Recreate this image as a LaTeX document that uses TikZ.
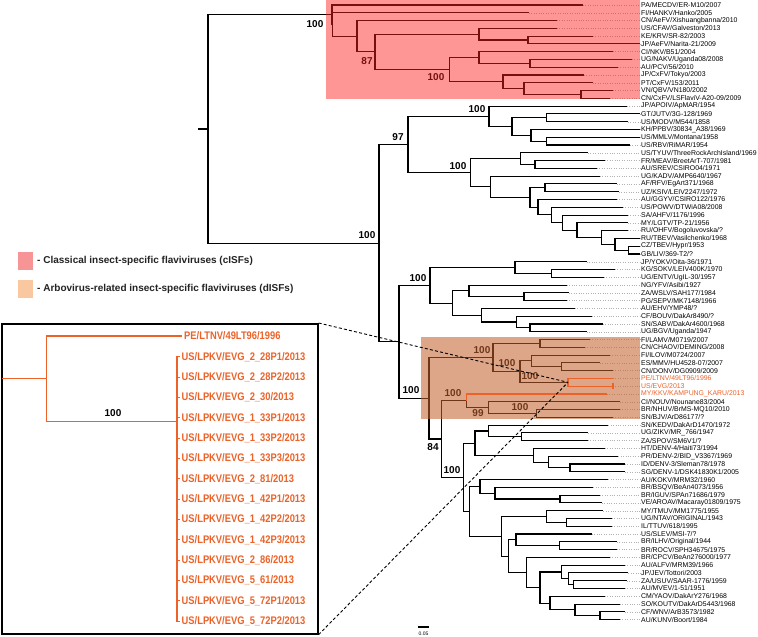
\documentclass[tikz,border=0pt]{standalone}
\usepackage{fontspec}
\setmainfont{Liberation Sans}
\newfontfamily\insetfont{Liberation Sans}[FakeStretch=0.85]
\usetikzlibrary{calc}
\definecolor{pinkov}{RGB}{255,32,32}
\definecolor{orov}{RGB}{196,98,45}
\definecolor{orline}{RGB}{236,98,40}
\definecolor{legpink}{RGB}{247,148,150}
\definecolor{legorange}{RGB}{250,200,160}
\definecolor{legtext}{RGB}{35,35,35}
\newcommand\tipN[5][black]{%
  \coordinate (#2) at (#4,{7.78*#3-2.78});
  \node[tiplab,text=#1] (#2L) at (641,{7.78*#3-2.78}) {#5};
  \draw[leader] (#2) -- (#2L.west);}
\newcommand\inode[5][tree]{%
  \coordinate (#2m) at ($(#4)!0.5!(#5)$);
  \coordinate (#2) at ($(#3,0)!(#2m)!(#3,10)$);
  \draw[#1] (#2) |- (#4);
  \draw[#1] (#2) |- (#5);}
\begin{document}
\begin{tikzpicture}[x=1pt,y=-1pt,
  tree/.style={line width=1.1pt, draw=black},
  obr/.style={line width=1.1pt, draw=orline},
  leader/.style={draw=gray!60, dotted, line width=0.4pt},
  tiplab/.style={anchor=west, inner sep=0pt, font=\fontsize{6.9}{7}\selectfont},
  boot/.style={font=\bfseries\fontsize{10}{11}\selectfont, inner sep=0pt},
  evglab/.style={anchor=west, inner sep=0pt, text=orline, font=\insetfont\bfseries\fontsize{11}{12}\selectfont},
]
\useasboundingbox[fill=white] (0,0) rectangle (758,637);

% ---------- tips ----------
\tipN{t1}{1}{583}{PA/MECDV/ER-M10/2007}
\tipN{t2}{2}{529}{FI/HANKV/Hanko/2005}
\tipN{t3}{3}{557}{CN/AeFV/Xishuangbanna/2010}
\tipN{t4}{4}{557}{US/CFAV/Galveston/2013}
\tipN{t5}{5}{593}{KE/KRV/SR-82/2003}
\tipN{t6}{6}{640}{JP/AeFV/Narita-21/2009}
\tipN{t7}{7}{613}{CI/NKV/B51/2004}
\tipN{t8}{8}{632}{UG/NAKV/Uganda08/2008}
\tipN{t9}{9}{618}{AU/PCV/56/2010}
\tipN{t10}{10}{584}{JP/CxFV/Tokyo/2003}
\tipN{t11}{11}{593}{PT/CxFV/153/2011}
\tipN{t12}{12}{613}{VN/QBV/VN180/2002}
\tipN{t13}{13}{610}{CN/CxFV/LSFlaviV-A20-09/2009}
\tipN{t14}{14}{627}{JP/APOIV/ApMAR/1954}
\tipN{t15}{15}{640}{GT/JUTV/3G-128/1969}
\tipN{t16}{16}{628}{US/MODV/M544/1858}
\tipN{t17}{17}{640}{KH/PPBV/30834\_A38/1969}
\tipN{t18}{18}{640}{US/MMLV/Montana/1958}
\tipN{t19}{19}{630}{US/RBV/RiMAR/1954}
\tipN{t20}{20}{588}{US/TYUV/ThreeRockArchIsland/1969}
\tipN{t21}{21}{605}{FR/MEAV/BreetArT-707/1981}
\tipN{t22}{22}{597}{AU/SREV/CSIRO04/1971}
\tipN{t23}{23}{600}{UG/KADV/AMP6640/1967}
\tipN{t24}{24}{617}{AF/RFV/EgArt371/1968}
\tipN{t25}{25}{619}{UZ/KSIV/LEIV2247/1972}
\tipN{t26}{26}{617}{AU/GGYV/CSIRO122/1976}
\tipN{t27}{27}{622.7}{US/POWV/DTWiA08/2008}
\tipN{t28}{28}{628}{SA/AHFV/1176/1996}
\tipN{t29}{29}{628}{MY/LGTV/TP-21/1956}
\tipN{t30}{30}{628}{RU/OHFV/Bogoluvovska/?}
\tipN{t31}{31}{640}{RU/TBEV/Vasilchenko/1968}
\tipN{t32}{32}{640}{CZ/TBEV/Hypr/1953}
\tipN{t33}{33}{640}{GB/LIV/369-T2/?}
\tipN{t34}{34}{586.7}{JP/YOKV/Oita-36/1971}
\tipN{t35}{35}{615}{KG/SOKV/LEIV400K/1970}
\tipN{t36}{36}{604}{UG/ENTV/UgIL-30/1957}
\tipN{t37}{37}{566.7}{NG/YFV/Asibi/1927}
\tipN{t38}{38}{569}{ZA/WSLV/SAH177/1984}
\tipN{t39}{39}{566.7}{PG/SEPV/MK7148/1966}
\tipN{t40}{40}{575}{AU/EHV/YMP48/?}
\tipN{t41}{41}{591.7}{CF/BOUV/DakAr8490/?}
\tipN{t42}{42}{602.7}{SN/SABV/DakAr4600/1968}
\tipN{t43}{43}{586.7}{UG/BGV/Uganda/1947}
\tipN{t44}{44}{590}{FI/LAMV/M0719/2007}
\tipN{t45}{45}{585}{CN/CHAOV/DEMING/2008}
\tipN{t46}{46}{610}{FI/ILOV/M0724/2007}
\tipN{t47}{47}{600}{ES/MMV/HU4528-07/2007}
\tipN{t48}{48}{613}{CN/DONV/DG0909/2009}
\tipN[orline]{t49}{49}{613}{PE/LTNV/49LT96/1996}
\tipN[orline]{t50}{50}{613}{US/EVG/2013}
\tipN[orline]{t51}{51}{607}{MY/KKV/KAMPUNG\_KARU/2013}
\tipN{t52}{52}{620}{CI/NOUV/Nounane83/2004}
\tipN{t53}{53}{620}{BR/NHUV/BrMS-MQ10/2010}
\tipN{t54}{54}{613}{SN/BJV/ArD86177/?}
\tipN{t55}{55}{608.3}{SN/KEDV/DakArD1470/1972}
\tipN{t56}{56}{588.3}{UG/ZIKV/MR\_766/1947}
\tipN{t57}{57}{588}{ZA/SPOV/SM6V1/?}
\tipN{t58}{58}{605}{HT/DENV-4/Haiti73/1994}
\tipN{t59}{59}{618.3}{PR/DENV-2/BID\_V3367/1969}
\tipN{t60}{60}{625}{ID/DENV-3/Sleman78/1978}
\tipN{t61}{61}{625}{SG/DENV-1/DSK41830K1/2005}
\tipN{t62}{62}{608.3}{AU/KOKV/MRM32/1960}
\tipN{t63}{63}{593.3}{BR/BSQV/BeAn4073/1956}
\tipN{t64}{64}{600}{BR/IGUV/SPAn71686/1979}
\tipN{t65}{65}{601.7}{VE/AROAV/Macaray01809/1975}
\tipN{t66}{66}{603.3}{MY/TMUV/MM1775/1955}
\tipN{t67}{67}{611.7}{UG/NTAV/ORIGINAL/1943}
\tipN{t68}{68}{611.7}{IL/TTUV/618/1995}
\tipN{t69}{69}{591.7}{US/SLEV/MSI-7/?}
\tipN{t70}{70}{616.7}{BR/ILHV/Original/1944}
\tipN{t71}{71}{616.7}{BR/ROCV/SPH34675/1975}
\tipN{t72}{72}{610}{BR/CPCV/BeAn276000/1977}
\tipN{t73}{73}{625}{AU/ALFV/MRM39/1966}
\tipN{t74}{74}{628.3}{JP/JEV/Tottori/2003}
\tipN{t75}{75}{626.7}{ZA/USUV/SAAR-1776/1959}
\tipN{t76}{76}{625}{AU/MVEV/1-51/1951}
\tipN{t77}{77}{605}{CM/YAOV/DakArY276/1968}
\tipN{t78}{78}{620}{SO/KOUTV/DakArD5443/1968}
\tipN{t79}{79}{625}{CF/WNV/ArB3573/1982}
\tipN{t80}{80}{620}{AU/KUNV/Boort/1984}

% ---------- internal nodes (children first) ----------
% cISF
\inode{C10}{581}{t12}{t13}
\inode{C9}{524}{t11}{C10}
\inode{C8}{503}{t10}{C9}
\inode{C8b}{530}{t8}{t9}
\inode{C7}{479}{t7}{C8b}
\inode{C5}{449.5}{C7}{C8}
\inode{C6}{528}{t5}{t6}
\inode{C4}{479}{t4}{C6}
\inode{C3}{375}{C4}{C5}
\inode{C2}{357}{t3}{C3}
\inode{C1b}{332.5}{t2}{C2}
\inode{C1}{332}{t1}{C1b}
% no-known-vector
\inode{P5}{546.7}{t18}{t19}
\inode{P4}{531}{t17}{P5}
\inode{P3}{546.7}{t15}{t16}
\inode{P2}{512}{P3}{P4}
\inode{P}{489}{t14}{P2}
% tick-borne
\inode{T11}{628.3}{t32}{t33}
\inode{T10}{615}{t31}{T11}
\inode{T9}{601.7}{t30}{T10}
\inode{T8}{577}{t29}{T9}
\inode{T7}{562.7}{t28}{T8}
\inode{T6}{551.7}{t27}{T7}
\inode{T5}{538}{t26}{T6}
\inode{T4}{545}{t24}{t25}
\inode{T3}{530}{T4}{T5}
\inode{T2}{490.7}{t23}{T3}
\inode{T1b}{535}{t21}{t22}
\inode{T1}{520.7}{t20}{T1b}
\inode{T}{470.7}{T1}{T2}
\inode{N97}{408}{P}{T}
% mosquito clade 1
\inode{M1h}{530}{t42}{t43}
\inode{M1g}{516.7}{t41}{M1h}
\inode{M1e}{481.7}{t40}{M1g}
\inode{M1f}{524}{t38}{t39}
\inode{M1d}{469}{t37}{M1f}
\inode{M1b}{452.7}{M1d}{M1e}
\inode{M1c}{551.7}{t35}{t36}
\inode{M1a}{515}{t34}{M1c}
\inode{M1}{430}{M1a}{M1b}
% dISF
\inode{D5}{561.7}{t47}{t48}
\inode{D3}{531.7}{t46}{D5}
\inode{D4}{568}{t49}{t50}
\inode{D2}{520}{D3}{D4}
\inode{D1}{540}{t44}{t45}
\inode{D}{493}{D1}{D2}
\inode{K4}{536.7}{t53}{t54}
\inode{K3}{488.3}{t52}{K4}
\inode{K2}{466.7}{t51}{K3}
% mosquito clade 2
\inode{S2}{521.7}{t56}{t57}
\inode{S1}{488.3}{t55}{S2}
\inode{Dg3}{570}{t60}{t61}
\inode{Dg2}{548.3}{t59}{Dg3}
\inode{Dg1}{533.3}{t58}{Dg2}
\inode{F1}{475}{S1}{Dg1}
\inode{G4}{560}{t64}{t65}
\inode{G3}{495}{t63}{G4}
\inode{G1}{480}{t62}{G3}
\inode{H3}{566.7}{t67}{t68}
\inode{H1}{546.7}{t66}{H3}
\inode{H6}{559.3}{t70}{t71}
\inode{H4}{516}{t69}{H6}
\inode{J4}{573.3}{t75}{t76}
\inode{J3}{568.3}{t74}{J4}
\inode{J1}{561.7}{t73}{J3}
\inode{J6}{600}{t79}{t80}
\inode{J5}{575}{t78}{J6}
\inode{J2}{550}{t77}{J5}
\inode{H7}{540}{J1}{J2}
\inode{H5}{526.7}{t72}{H7}
\inode{H2}{508.3}{H4}{H5}
\inode{G2}{501.7}{H1}{H2}
\inode{F2}{469.3}{G1}{G2}
\inode{F}{463.3}{F1}{F2}
\inode{E}{441.7}{K2}{F}
\inode{M2}{429}{D}{E}
\inode{B}{399}{M1}{M2}
\inode{A}{379}{N97}{B}
\inode{R}{208}{C1}{A}
\coordinate (stub) at ($(198,0)!(R)!(198,10)$);
\draw[tree] (stub) -- (R);

% ---------- bootstrap labels ----------
\node[boot] (b1) at (315,24) {100};
\node[boot] (b2) at (367,61) {87};
\node[boot] (b3) at (436,77) {100};
\node[boot] (b4) at (367,235) {100};
\node[boot] (b5) at (398,137) {97};
\node[boot] (b6) at (477,109) {100};
\node[boot] (b7) at (458,166) {100};
\node[boot] (b8) at (418,278) {100};
\node[boot] (b9) at (411,390) {100};
\node[boot] (b10) at (482,350) {100};
\node[boot] (b11) at (507,363) {100};
\node[boot] (b12) at (530,376) {100};
\node[boot] (b13) at (453,393) {100};
\node[boot] (b14) at (478,413) {99};
\node[boot] (b15) at (520,407) {100};
\node[boot] (b16) at (433,447) {84};
\node[boot] (b17) at (452,470) {100};

% ---------- clade overlays ----------
\fill[pinkov, fill opacity=0.47] (326,0) rectangle (640,99);
\fill[orov, fill opacity=0.56] (421,337) rectangle (640,419);

% ---------- orange branches ----------
\draw[obr] (D4) |- (t49);
\draw[obr] (D4) |- (t50);
\draw[obr] (K2) |- (t51);
\coordinate (evgbarT) at ($(t50)+(0,-3)$);
\coordinate (evgbarB) at ($(t50)+(0,3)$);
\draw[obr] (evgbarT) -- (evgbarB);

% ---------- scale bar ----------
\coordinate (sb1) at (418,627);
\coordinate (sb2) at (429,627);
\draw[line width=1.1pt] (sb1) -- (sb2);
\node[inner sep=0, font=\fontsize{5}{6}\selectfont] (sbl) at (423.5,634) {0.05};

% ---------- legend ----------
\node[fill=legpink, minimum width=15pt, minimum height=18pt, inner sep=0] (lg1) at (25.5,261) {};
\node[anchor=west, inner sep=0, text=legtext, font=\bfseries\fontsize{10}{12}\selectfont] (lg1t) at (37,261) {- Classical insect-specific flaviviruses (cISFs)};
\node[fill=legorange, minimum width=15pt, minimum height=18pt, inner sep=0] (lg2) at (25.5,289) {};
\node[anchor=west, inner sep=0, text=legtext, font=\bfseries\fontsize{10}{12}\selectfont] (lg2t) at (37,289) {- Arbovirus-related insect-specific flaviviruses (dISFs)};

% ---------- inset ----------
\node[draw, line width=1.6pt, fill=white, anchor=north west, minimum width=316pt, minimum height=310pt, inner sep=0] (inset) at (1,323) {};
\draw[dashed, line width=0.9pt, dash pattern=on 3pt off 2.2pt] (inset.north east) -- (D4);
\draw[dashed, line width=0.9pt, dash pattern=on 3pt off 2.2pt] (inset.south east) -- (D4);

\coordinate (iL) at (182,336);
\node[evglab] (iLl) at (184,336) {PE/LTNV/49LT96/1996};
\foreach \k/\lab in {1/EVG\_2\_28P1,2/EVG\_2\_28P2,3/EVG\_2\_30,4/EVG\_1\_33P1,5/EVG\_1\_33P2,6/EVG\_1\_33P3,7/EVG\_2\_81,8/EVG\_1\_42P1,9/EVG\_1\_42P2,10/EVG\_1\_42P3,11/EVG\_2\_86,12/EVG\_5\_61,13/EVG\_5\_72P1,14/EVG\_5\_72P2}{
  \coordinate (e\k) at (180,{356.7+20.35*(\k-1)});
  \node[evglab] (e\k l) at (181.5,{356.7+20.35*(\k-1)}) {US/LPKV/\lab/2013};
}
\coordinate (iE) at (177,421.7);
\foreach \k in {1,...,14}{\draw[obr] (iE) |- (e\k);}
\inode[obr]{iR}{46.5}{iL}{iE}
\coordinate (i0) at ($(2,0)!(iR)!(2,10)$);
\draw[obr] (i0) -- (iR);
\node[boot] (ib) at (113,413) {100};
\end{tikzpicture}
\end{document}
